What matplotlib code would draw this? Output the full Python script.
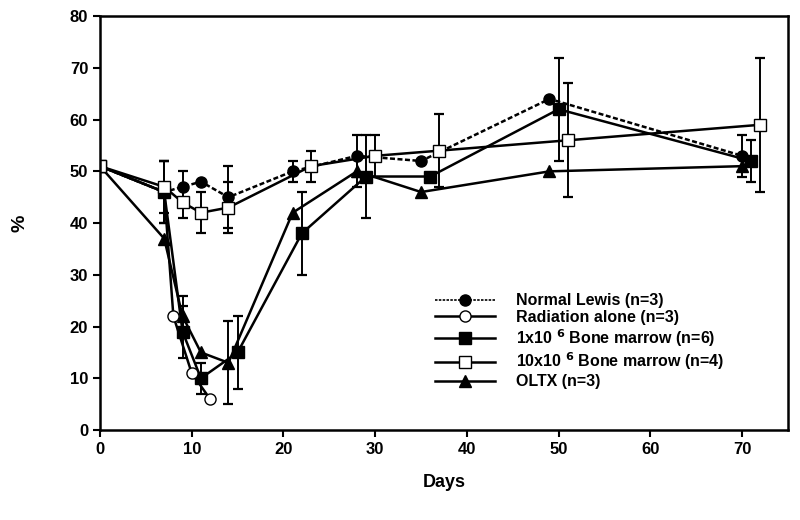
import numpy as np
from matplotlib import pyplot as plt
from matplotlib.lines import Line2D

plt.rcParams['font.family'] = ['Liberation Sans', 'DejaVu Sans']
plt.rcParams['font.weight'] = 'bold'
plt.rcParams['mathtext.default'] = 'bf'

nan = np.nan

# Normal Lewis (n=3)
dias_nl = [0, 7, 9, 11, 14, 21, 28, 35, 49, 70]
val_nl = [51, 46, 47, 48, 45, 50, 53, 52, 64, 53]
err_nl = [nan, 6, 3, nan, 6, 2, 4, nan, nan, 4]

# Radiation alone (n=3)
dias_rad = [0, 7, 8, 10, 12]
val_rad = [51, 46, 22, 11, 6]

# 1x10^6 bone marrow (n=6)
dias_bm1 = [0, 7, 9, 11, 15, 22, 29, 36, 50, 71]
val_bm1 = [51, 46, 19, 10, 15, 38, 49, 49, 62, 52]
err_bm1 = [nan, 6, 5, 3, 7, 8, 8, nan, 10, 4]

# 10x10^6 bone marrow (n=4)
dias_bm10 = [0, 7, 9, 11, 14, 23, 30, 37, 51, 72]
val_bm10 = [51, 47, 44, 42, 43, 51, 53, 54, 56, 59]
err_bm10 = [nan, 5, 3, 4, 5, 3, 4, 7, 11, 13]

# OLTX (n=3)
dias_oltx = [0, 7, 9, 11, 14, 21, 28, 35, 49, 70]
val_oltx = [51, 37, 22, 15, 13, 42, 50, 46, 50, 51]
err_oltx = [nan, nan, 4, nan, 8, nan, 3, nan, nan, nan]

fig = plt.figure(figsize=(8, 5.2), dpi=100)
ax = fig.add_axes([0.125, 0.173, 0.86, 0.796])

estilo = dict(color="black", lw=1.8, ms=8, capsize=3.5, elinewidth=1.4,
              capthick=1.6, mec="black")

ax.errorbar(dias_oltx, val_oltx, yerr=err_oltx, marker="^", mfc="black", **estilo)
ax.errorbar(dias_bm1, val_bm1, yerr=err_bm1, marker="s", mfc="black", **estilo)
ax.errorbar(dias_rad, val_rad, marker="o", mfc="white", **estilo)
ax.errorbar(dias_nl, val_nl, yerr=err_nl, marker="o", mfc="black", ls=(0, (2, 1)), **estilo)
ax.errorbar(dias_bm10, val_bm10, yerr=err_bm10, marker="s", mfc="white", **estilo)

ax.set_xlim(0, 75)
ax.set_ylim(0, 80)
ax.set_xticks(range(0, 80, 10))
ax.set_yticks(range(0, 90, 10))
ax.tick_params(labelsize=12, width=1.5, length=5, direction="out")
for s in ax.spines.values():
    s.set_linewidth(1.8)
ax.set_xlabel("Days", fontsize=13, fontweight="bold", labelpad=12)
ax.set_ylabel("%", fontsize=14, fontweight="bold", labelpad=30)

manijas = [
    Line2D([], [], color="black", lw=1.2, ls=(0, (1.5, 0.8)), marker="o", ms=8, mfc="black", mec="black"),
    Line2D([], [], color="black", lw=1.8, marker="o", ms=8, mfc="white", mec="black"),
    Line2D([], [], color="black", lw=1.8, marker="s", ms=8, mfc="black", mec="black"),
    Line2D([], [], color="black", lw=1.8, marker="s", ms=8, mfc="white", mec="black"),
    Line2D([], [], color="black", lw=1.8, marker="^", ms=8, mfc="black", mec="black"),
]
etiquetas = ["Normal Lewis (n=3)", "Radiation alone (n=3)",
             "1x10 $^{6}$ Bone marrow (n=6)", "10x10 $^{6}$ Bone marrow (n=4)",
             "OLTX (n=3)"]
ax.legend(manijas, etiquetas, loc="upper left", bbox_to_anchor=(0.475, 0.35),
          frameon=False, borderpad=0, handlelength=3.8, handletextpad=1.3,
          labelspacing=0.12, prop={"weight": "bold", "size": 11.5})

plt.savefig("out.png")
